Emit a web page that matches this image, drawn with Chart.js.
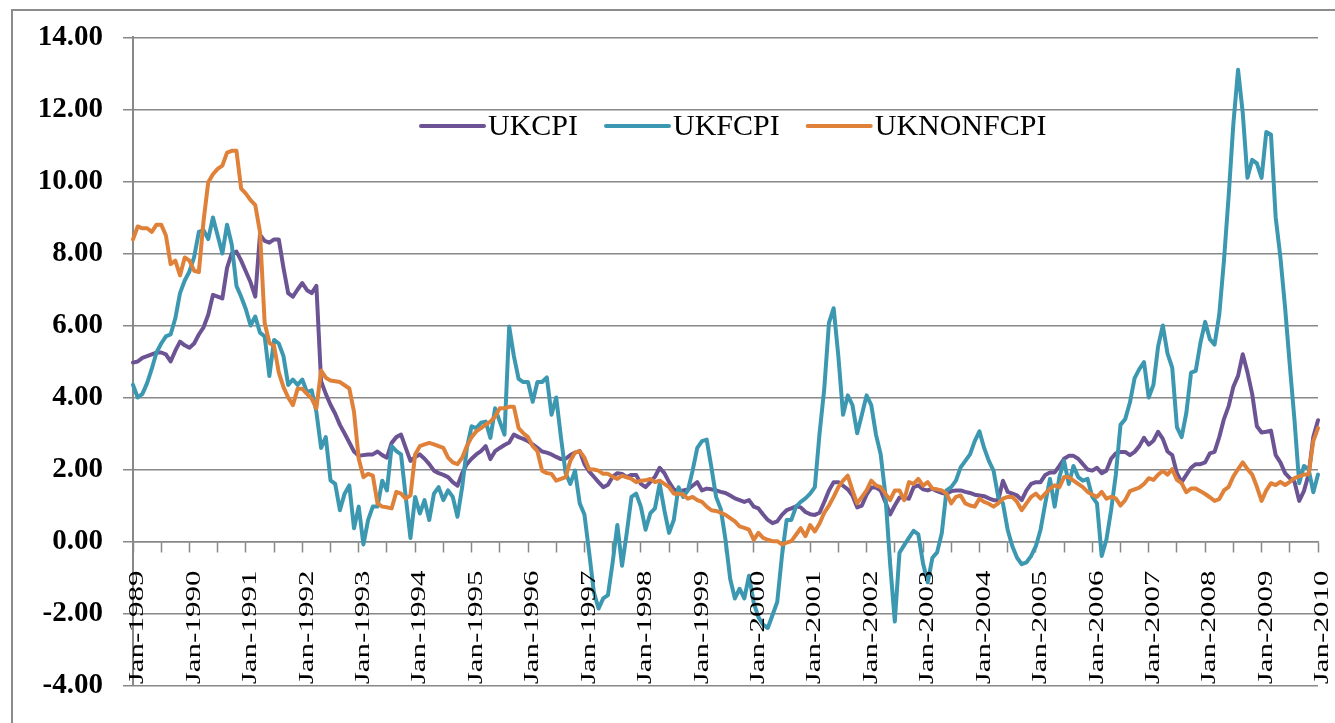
<!DOCTYPE html>
<html>
<head>
<meta charset="utf-8">
<title>UKCPI / UKFCPI / UKNONFCPI</title>
<script src="https://cdn.jsdelivr.net/npm/chart.js@4.4.1/dist/chart.umd.min.js"></script>
<style>
  html, body { margin: 0; padding: 0; background: #fff; }
  #wrap { width: 1335px; height: 723px; }
</style>
</head>
<body>
<div id="wrap"><canvas id="chart" width="1335" height="723"></canvas></div>
<script>
// monthly series, Jan-1989 .. Jan-2010
const startYear = 1989;
const monthNames = ['Jan', 'Feb', 'Mar', 'Apr', 'May', 'Jun', 'Jul', 'Aug', 'Sep', 'Oct', 'Nov', 'Dec'];

const ukcpi = [
  4.97, 5.0, 5.1, 5.15, 5.2, 5.25, 5.25, 5.2, 5.0, 5.3,
  5.55, 5.45, 5.38, 5.5, 5.75, 5.95, 6.3, 6.85, 6.8, 6.75,
  7.6, 8.0, 8.05, 7.8, 7.5, 7.2, 6.8, 8.52, 8.35, 8.3,
  8.39, 8.39, 7.6, 6.9, 6.8, 7.0, 7.18, 6.98, 6.9, 7.1,
  4.45, 4.1, 3.8, 3.55, 3.24, 3.0, 2.75, 2.5, 2.38, 2.4,
  2.42, 2.42, 2.5, 2.4, 2.33, 2.74, 2.9, 2.97, 2.6, 2.24,
  2.35, 2.42, 2.3, 2.15, 1.97, 1.9, 1.85, 1.79, 1.65, 1.55,
  1.9, 2.15, 2.3, 2.42, 2.51, 2.65, 2.29, 2.51, 2.6, 2.68,
  2.75, 2.97, 2.9, 2.85, 2.79, 2.7, 2.6, 2.5, 2.47, 2.42,
  2.35, 2.29, 2.3, 2.4, 2.47, 2.51, 2.15, 1.95, 1.8, 1.65,
  1.51, 1.58, 1.8, 1.9, 1.88, 1.79, 1.85, 1.85, 1.6, 1.51,
  1.65, 1.8, 2.05, 1.9, 1.65, 1.45, 1.38, 1.42, 1.45, 1.55,
  1.65, 1.42, 1.47, 1.45, 1.42, 1.38, 1.35, 1.28, 1.2, 1.15,
  1.1, 1.15, 0.97, 0.92, 0.75, 0.6, 0.51, 0.56, 0.74, 0.87,
  0.92, 0.98, 0.95, 0.82, 0.76, 0.74, 0.8, 1.1, 1.42, 1.65,
  1.65, 1.55, 1.45, 1.28, 0.95, 1.0, 1.3, 1.5, 1.5, 1.42,
  1.1, 0.75, 1.0, 1.22, 1.22, 1.19, 1.51, 1.56, 1.45, 1.42,
  1.47, 1.4, 1.35, 1.33, 1.4, 1.42, 1.42, 1.38, 1.35, 1.3,
  1.28, 1.26, 1.2, 1.15, 1.15, 1.69, 1.38, 1.33, 1.28, 1.15,
  1.42, 1.6, 1.65, 1.65, 1.85, 1.92, 1.92, 2.1, 2.3, 2.38,
  2.38, 2.3, 2.15, 2.0, 1.97, 2.05, 1.9, 1.97, 2.3, 2.45,
  2.49, 2.49, 2.4, 2.49, 2.65, 2.88, 2.69, 2.8, 3.05, 2.85,
  2.5, 2.4, 1.9, 1.65, 1.85, 2.05, 2.15, 2.15, 2.2, 2.45,
  2.49, 2.9, 3.4, 3.76, 4.3, 4.6, 5.2, 4.7, 4.1, 3.2,
  3.03, 3.05, 3.08, 2.4, 2.2, 1.9, 1.76, 1.66, 1.13, 1.4,
  1.86, 2.9, 3.37
];

const ukfcpi = [
  4.35, 4.0, 4.1, 4.4, 4.8, 5.25, 5.5, 5.7, 5.75, 6.2,
  6.9, 7.25, 7.5, 7.9, 8.6, 8.65, 8.4, 9.0, 8.5, 8.0,
  8.8, 8.25, 7.1, 6.8, 6.45, 6.0, 6.25, 5.8, 5.7, 4.6,
  5.6, 5.5, 5.15, 4.35, 4.5, 4.35, 4.5, 4.15, 4.2, 3.6,
  2.6, 2.9, 1.7, 1.6, 0.87, 1.33, 1.56, 0.37, 0.97, -0.08,
  0.6, 0.97, 0.97, 1.69, 1.42, 2.65, 2.51, 2.42, 1.24, 0.1,
  1.24, 0.78, 1.15, 0.6, 1.33, 1.51, 1.15, 1.42, 1.24, 0.69,
  1.51, 2.6, 3.2, 3.15, 3.3, 3.33, 2.88, 3.7, 3.33, 2.97,
  5.97, 5.15, 4.52, 4.43, 4.43, 3.88, 4.43, 4.43, 4.56, 3.52,
  4.0, 2.9, 1.9, 1.6, 1.97, 1.06, 0.75, -0.3, -1.4, -1.86,
  -1.58, -1.49, -0.58, 0.46, -0.67, 0.24, 1.24, 1.33, 0.97, 0.33,
  0.78, 0.92, 1.6, 0.87, 0.24, 0.6, 1.51, 1.24, 1.42, 1.97,
  2.6, 2.79, 2.83, 2.06, 1.24, 0.9, 0.05, -1.04, -1.58, -1.31,
  -1.58, -0.95, -1.7, -2.1, -2.31, -2.4, -2.04, -1.68, -0.4, 0.6,
  0.6, 0.97, 1.1, 1.2, 1.33, 1.51, 3.0, 4.24, 6.07, 6.48,
  5.15, 3.52, 4.06, 3.79, 3.01, 3.52, 4.06, 3.79, 2.97, 2.42,
  1.3, -0.6, -2.22, -0.31, -0.1, 0.1, 0.3, 0.2, -0.6, -1.13,
  -0.45, -0.3, 0.24, 1.42, 1.51, 1.69, 2.06, 2.24, 2.42, 2.79,
  3.06, 2.6, 2.24, 1.97, 1.24, 1.06, 0.33, -0.13, -0.45, -0.63,
  -0.58, -0.4, -0.13, 0.33, 1.06, 1.74, 0.97, 1.79, 2.24, 1.6,
  2.1, 1.79, 1.69, 1.74, 1.24, 1.06, -0.4, 0.05, 0.87, 1.85,
  3.24, 3.4, 3.86, 4.54, 4.79, 4.98, 4.0, 4.35, 5.42, 6.0,
  5.22, 4.83, 3.18, 2.9, 3.57, 4.69, 4.74, 5.52, 6.1, 5.62,
  5.47, 6.3, 7.8, 9.6, 11.6, 13.1, 11.9, 10.1, 10.6, 10.5,
  10.1, 11.37, 11.3, 9.0, 7.9, 6.5, 4.9, 3.37, 1.62, 2.1,
  2.01, 1.37, 1.86
];

const uknonfcpi = [
  8.39, 8.75, 8.7, 8.7, 8.6, 8.8, 8.8, 8.5, 7.7, 7.8,
  7.39, 7.89, 7.8, 7.52, 7.48, 8.9, 9.98, 10.2, 10.35, 10.44,
  10.8, 10.85, 10.85, 9.8, 9.66, 9.48, 9.34, 8.6, 6.07, 5.52,
  5.43, 4.7, 4.29, 4.0, 3.79, 4.24, 4.24, 4.1, 3.97, 3.7,
  4.75, 4.55, 4.47, 4.45, 4.43, 4.34, 4.25, 3.6, 2.3, 1.79,
  1.88, 1.83, 1.06, 0.97, 0.95, 0.92, 1.38, 1.33, 1.19, 1.28,
  2.42, 2.65, 2.7, 2.74, 2.7, 2.65, 2.6, 2.33, 2.2, 2.15,
  2.33, 2.65, 2.9, 3.06, 3.15, 3.25, 3.33, 3.47, 3.7, 3.7,
  3.74, 3.74, 3.15, 3.01, 2.9, 2.65, 2.51, 1.97, 1.9, 1.88,
  1.69, 1.74, 1.79, 2.24, 2.47, 2.51, 2.33, 2.01, 2.0, 1.97,
  1.88, 1.88, 1.8, 1.74, 1.83, 1.78, 1.74, 1.65, 1.69, 1.7,
  1.74, 1.65, 1.69, 1.6, 1.51, 1.33, 1.33, 1.3, 1.19, 1.24,
  1.15, 1.1, 0.97, 0.87, 0.85, 0.8, 0.74, 0.65, 0.56, 0.42,
  0.38, 0.33, 0.05, 0.24, 0.1, 0.05, 0.01, 0.01, -0.08, -0.03,
  0.01, 0.19, 0.37, 0.15, 0.46, 0.28, 0.5, 0.8, 1.0, 1.24,
  1.51, 1.69, 1.83, 1.42, 1.06, 1.24, 1.42, 1.69, 1.56, 1.51,
  1.33, 1.15, 1.42, 1.42, 1.15, 1.65, 1.6, 1.74, 1.55, 1.65,
  1.47, 1.45, 1.42, 1.33, 1.06, 1.24, 1.28, 1.06, 1.0, 0.97,
  1.19, 1.1, 1.05, 0.97, 1.06, 1.19, 1.24, 1.24, 1.1, 0.87,
  1.06, 1.24, 1.33, 1.19, 1.33, 1.47, 1.56, 1.51, 1.79, 1.79,
  1.69, 1.6, 1.51, 1.38, 1.3, 1.24, 1.38, 1.19, 1.24, 1.2,
  1.0, 1.15, 1.4, 1.45, 1.5, 1.6, 1.76, 1.71, 1.86, 1.96,
  1.86, 2.01, 1.71, 1.62, 1.37, 1.47, 1.47, 1.4, 1.32, 1.23,
  1.13, 1.18, 1.42, 1.52, 1.81, 2.01, 2.2, 2.01, 1.86, 1.52,
  1.13, 1.42, 1.62, 1.57, 1.66, 1.57, 1.66, 1.76, 1.81, 1.86,
  1.86, 2.79, 3.15
];

const seriesNames = ['UKCPI', 'UKFCPI', 'UKNONFCPI'];
const seriesColors = ['#6c5494', '#3c98b1', '#e0813a'];

const labels = [];
for (let i = 0; i < ukcpi.length; i++) {
  labels.push(monthNames[i % 12] + '-' + (startYear + Math.floor(i / 12)));
}

const gridGray = '#888888';
const serif = '"Liberation Serif", "Times New Roman", serif';

// outer frame + white background
const frame = {
  id: 'frame',
  beforeDraw(chart) {
    const ctx = chart.ctx;
    ctx.save();
    ctx.fillStyle = '#fff';
    ctx.fillRect(0, 0, chart.width, chart.height);
    ctx.strokeStyle = '#8c8c8c';
    ctx.lineWidth = 2;
    ctx.strokeRect(12, 10, chart.width + 20, chart.height + 20);
    ctx.restore();
  }
};

// rotated, stretched "Jan-YYYY" labels under the zero line
const yearLabels = {
  id: 'yearLabels',
  afterDraw(chart) {
    const { ctx, scales: { x, y } } = chart;
    const y0 = y.getPixelForValue(0);
    ctx.save();
    ctx.fillStyle = '#000';
    ctx.font = '20px ' + serif;
    ctx.textAlign = 'right';
    ctx.textBaseline = 'middle';
    labels.forEach((lab, i) => {
      if (i % 12 !== 0) return;
      ctx.save();
      ctx.translate(x.getPixelForValue(i) + 5, y0 + 29);
      ctx.rotate(-Math.PI / 2);
      ctx.scale(1.55, 1);
      ctx.fillText(lab, 0, 0);
      ctx.restore();
    });
    ctx.restore();
  }
};

// legend inside the plot area
const legendInside = {
  id: 'legendInside',
  afterDraw(chart) {
    const ctx = chart.ctx;
    let px = 421;
    const py = 126;
    ctx.save();
    ctx.font = '30px ' + serif;
    ctx.textBaseline = 'middle';
    ctx.textAlign = 'left';
    seriesNames.forEach((name, i) => {
      ctx.strokeStyle = seriesColors[i];
      ctx.lineWidth = 4;
      ctx.lineCap = 'round';
      ctx.beginPath();
      ctx.moveTo(px, py);
      ctx.lineTo(px + 63, py);
      ctx.stroke();
      ctx.fillStyle = '#000';
      ctx.fillText(name, px + 67, py + 1);
      px += 67 + ctx.measureText(name).width + 28;
    });
    ctx.restore();
  }
};

const series = [ukcpi, ukfcpi, uknonfcpi];

new Chart(document.getElementById('chart'), {
  type: 'line',
  data: {
    labels: labels,
    datasets: series.map((d, i) => ({
      label: seriesNames[i],
      data: d,
      borderColor: seriesColors[i],
      backgroundColor: seriesColors[i],
      borderWidth: 4,
      pointRadius: 0,
      tension: 0,
      borderJoinStyle: 'round',
      borderCapStyle: 'round',
      order: 2 - i,
    })),
  },
  options: {
    responsive: false,
    animation: false,
    devicePixelRatio: 1,
    layout: { padding: { top: 29, right: 17, bottom: 35, left: 0 } },
    plugins: { legend: { display: false }, tooltip: { enabled: false } },
    scales: {
      x: {
        position: { y: 0 },
        ticks: { display: false, autoSkip: false },
        grid: {
          drawOnChartArea: false,
          drawTicks: true,
          tickLength: 10,
          tickWidth: 1.5,
          tickColor: (c) => (c.index % 6 === 0 ? gridGray : 'rgba(0,0,0,0)'),
        },
        border: { color: gridGray, width: 1.5 },
        afterFit: (s) => { s.height = 0; },
      },
      y: {
        min: -4,
        max: 14,
        ticks: {
          stepSize: 2,
          padding: 20,
          color: '#000',
          font: { family: serif, size: 29, weight: 'bold' },
          callback: (v) => Number(v).toFixed(2),
        },
        grid: { color: gridGray, lineWidth: 1.5, tickLength: 10 },
        border: { color: gridGray, width: 2 },
        afterFit: (s) => { s.width = 133; },
      },
    },
  },
  plugins: [frame, yearLabels, legendInside],
});
</script>
</body>
</html>
